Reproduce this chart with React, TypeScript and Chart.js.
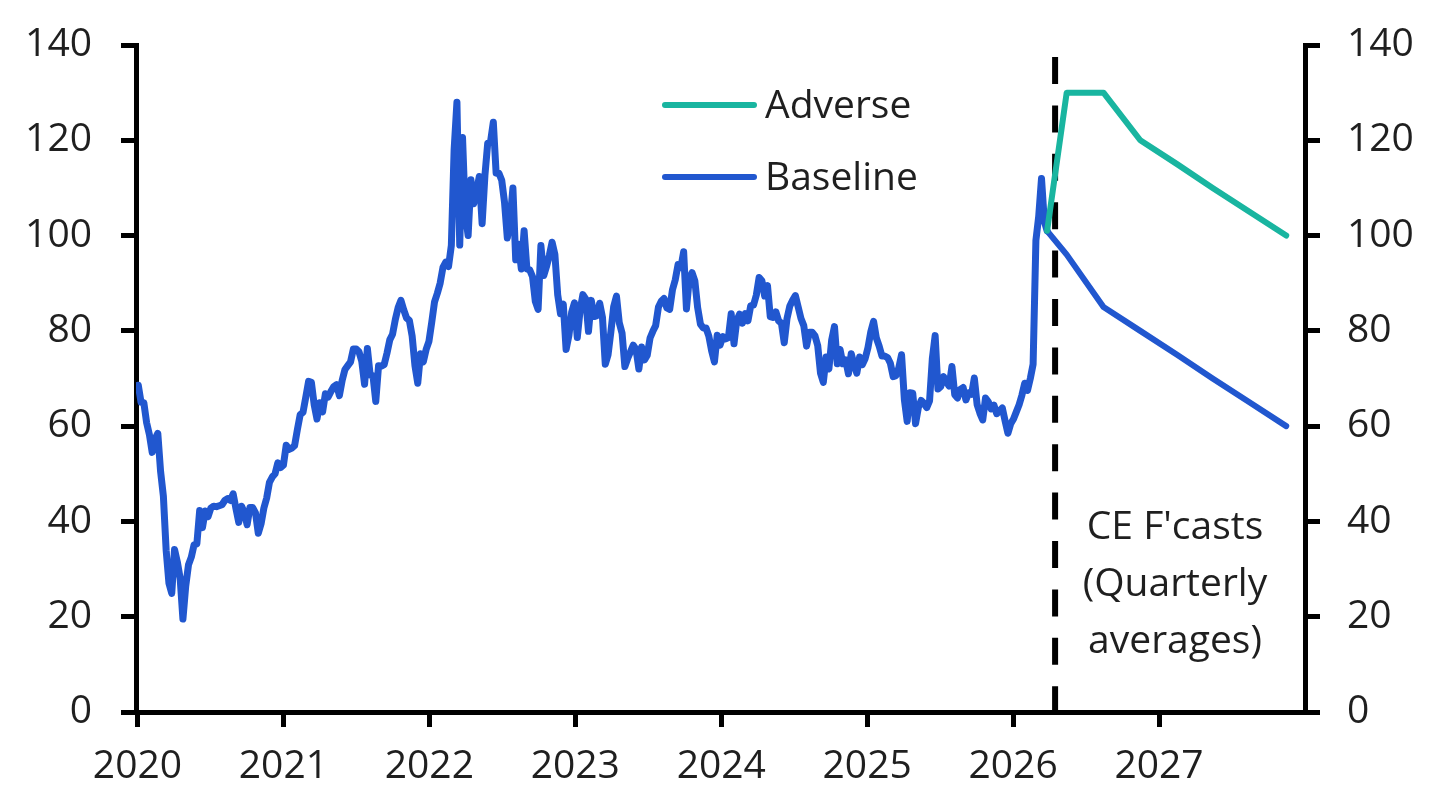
import React, { useEffect, useRef } from "react";
import { Chart, registerables } from "chart.js";

Chart.register(...registerables);

// Weekly (Friday) observations, first week ending 2020-01-03
const WEEKLY_START = "2020-01-03";

const brent2020 = [
  68.6, 65.0, 64.9, 60.7, 58.2,
  54.5, 57.3, 58.5, 50.5,
  45.3, 33.9, 27.0, 24.9,
  34.1, 31.5, 28.1, 19.5,
  26.4, 30.9, 32.5, 35.1, 35.3,
  42.3, 38.7, 42.2, 41.0,
  42.8, 43.2, 43.1, 43.3, 43.5,
  44.4, 44.8, 44.4, 45.8,
  42.7, 39.8, 43.2, 41.9,
  39.3, 42.9, 42.9, 41.8, 37.5,
  39.5, 42.8, 44.9, 48.2,
  49.3, 50.0, 52.3, 51.3,
];

const brent2021 = [
  51.8, 56.0, 55.1, 55.4, 55.9,
  59.3, 62.4, 62.9, 66.1,
  69.4, 69.2, 64.5, 61.5,
  64.9, 63.0, 66.8, 66.1, 67.3,
  68.3, 68.7, 66.4, 69.6,
  71.9, 72.7, 73.5, 76.2,
  76.2, 75.6, 73.6, 68.8, 76.3,
  70.7, 70.6, 65.2, 72.7,
  72.6, 72.9, 75.3, 78.1,
  79.3, 82.4, 84.9, 86.4, 84.4,
  82.7, 82.2, 78.9, 72.7,
  69.0, 75.2, 73.5, 76.1, 77.8,
];

const brent2022 = [
  81.8, 86.1, 87.9, 90.0,
  93.3, 94.4, 93.5, 97.9,
  118.1, 128.0, 98.0, 120.6,
  104.4, 100.0, 111.7, 106.7, 109.3,
  112.4, 102.5, 112.6, 119.4,
  119.7, 123.8, 113.1, 113.1,
  111.6, 107.0, 99.5, 103.2, 110.0,
  94.9, 98.2, 93.0, 101.0,
  93.0, 92.8, 91.4, 86.2, 84.5,
  97.9, 91.6, 93.5, 95.8,
  98.6, 96.0, 87.6, 83.6,
  85.6, 76.1, 79.0, 83.9, 85.9,
];

const brent2023 = [
  78.6, 84.3, 87.6, 86.7,
  79.9, 86.4, 83.0, 83.2,
  85.8, 82.8, 73.0, 75.0, 79.8,
  85.1, 87.3, 81.7, 79.5,
  72.5, 74.2, 75.6, 77.0,
  76.1, 72.0, 76.6, 73.9, 74.9,
  78.5, 79.9, 81.1, 85.0,
  86.2, 86.8, 84.8, 84.5,
  88.6, 90.7, 93.9, 93.3, 96.6,
  84.6, 90.9, 92.2, 90.5,
  84.9, 81.4, 80.6, 80.6,
  78.9, 75.8, 73.5, 79.1, 77.0,
];

const brent2024 = [
  78.8, 78.3, 78.6, 83.6,
  77.3, 82.2, 83.5, 81.6,
  83.6, 82.1, 85.3, 85.4, 87.5,
  91.2, 90.5, 87.3, 89.5,
  83.0, 82.8, 84.0, 82.1, 81.6,
  77.5, 82.6, 85.2, 86.4,
  87.4, 85.0, 82.6, 81.1,
  76.8, 79.7, 79.7, 79.0, 76.9,
  71.1, 69.2, 74.5, 72.0,
  78.1, 80.9, 73.1, 76.1,
  73.1, 73.9, 71.0, 75.2, 72.9,
  71.1, 74.5, 72.9, 74.2,
];

const brent2025 = [
  76.5, 79.8, 82.0, 78.5, 76.8,
  74.7, 74.7, 74.4, 73.2,
  70.4, 70.6, 72.2, 75.0,
  65.6, 61.0, 67.0, 66.9,
  60.5, 63.9, 65.4, 64.8, 63.9,
  65.3, 74.2, 79.0, 67.8,
  68.3, 70.4, 69.3, 68.4,
  72.5, 66.6, 65.9, 67.7, 68.1,
  65.5, 67.0, 66.7, 70.1,
  64.5, 62.7, 61.3, 65.9, 65.1,
  63.6, 64.4, 62.6, 63.2,
  63.8, 61.1, 58.5, 60.5,
];

const brent2026 = [
  61.5, 63.0, 64.5, 66.5, 69.0,
  67.5, 70.0, 73.0, 99.0,
  104.0, 112.0, 103.0, 101.0,
];

// Quarterly-average forecasts, anchored on the last observation
const forecastDates = [
  "2026-03-27", "2026-05-15", "2026-08-15", "2026-11-15",
  "2027-02-15", "2027-05-15", "2027-08-15", "2027-11-15",
];
const adverseForecast = [101, 130, 130, 120, 115, 110, 105, 100];
const baselineForecast = [101, 96, 85, 80, 75, 70, 65, 60];

const forecastDivider = "2026-04-16";
const yearTicks = [2020, 2021, 2022, 2023, 2024, 2025, 2026, 2027];
const seriesLabels = ["Adverse", "Baseline"];
const noteLines = ["CE F'casts", "(Quarterly", "averages)"];

const BLUE = "#2157CF";
const TEAL = "#19B5A0";
const INK = "#1f1f1f";
const FONT = "'Open Sans', 'Noto Sans', sans-serif";
const FONT_SIZE = 39;

function toYear(iso: string): number {
  const [y, m, d] = iso.split("-").map(Number);
  const start = Date.UTC(y, 0, 1);
  const end = Date.UTC(y + 1, 0, 1);
  return y + (Date.UTC(y, m - 1, d) - start) / (end - start);
}

function weeklyDate(i: number): string {
  const t = new Date(WEEKLY_START + "T00:00:00Z").getTime() + i * 7 * 86400000;
  return new Date(t).toISOString().slice(0, 10);
}

const brentWeekly = [
  ...brent2020, ...brent2021, ...brent2022, ...brent2023,
  ...brent2024, ...brent2025, ...brent2026,
];

const overlayPlugin = {
  id: "overlay",
  beforeDatasetsDraw(chart: any) {
    const { ctx, chartArea, scales } = chart;
    const x = scales.x.getPixelForValue(toYear(forecastDivider));
    ctx.save();
    ctx.strokeStyle = "#000";
    ctx.lineWidth = 6;
    ctx.setLineDash([27, 21.4]);
    ctx.beginPath();
    ctx.moveTo(x, 57);
    ctx.lineTo(x, chartArea.bottom);
    ctx.stroke();
    ctx.restore();
  },
  afterDatasetsDraw(chart: any) {
    const { ctx } = chart;
    ctx.save();
    // legend
    const colors = [TEAL, BLUE];
    const rows = [105, 177];
    ctx.font = `${FONT_SIZE}px ${FONT}`;
    ctx.fillStyle = INK;
    ctx.textBaseline = "alphabetic";
    ctx.textAlign = "left";
    seriesLabels.forEach((label, i) => {
      ctx.strokeStyle = colors[i];
      ctx.lineWidth = 6;
      ctx.lineCap = "round";
      ctx.beginPath();
      ctx.moveTo(665, rows[i]);
      ctx.lineTo(754, rows[i]);
      ctx.stroke();
      ctx.fillText(label, 765, rows[i] + 13);
    });
    // forecast note
    ctx.textAlign = "center";
    noteLines.forEach((line, i) => {
      ctx.fillText(line, 1175, 539 + i * 57);
    });
    ctx.restore();
  },
};

const tickFont = { family: FONT, size: FONT_SIZE };

// value axes: fixed width, and no extra top/bottom room for the end labels
function fitValueAxis(width: number) {
  return (s: any) => {
    s.width = width;
    s.paddingTop = 0;
    s.paddingBottom = 0;
  };
}

export default function App() {
  const canvasRef = useRef<HTMLCanvasElement | null>(null);

  useEffect(() => {
    const canvas = canvasRef.current;
    if (!canvas) return;

    const actual = brentWeekly.map((v, i) => ({ x: toYear(weeklyDate(i)), y: v }));
    const adverse = forecastDates.map((d, i) => ({ x: toYear(d), y: adverseForecast[i] }));
    const baseline = forecastDates.map((d, i) => ({ x: toYear(d), y: baselineForecast[i] }));

    const axisGrid = {
      drawOnChartArea: false,
      drawTicks: true,
      tickLength: 15,
      tickWidth: 5,
      lineWidth: 5,
      tickColor: "#000",
      color: "#000",
    };
    const axisBorder = { display: true, color: "#000", width: 5 };

    const chart = new Chart(canvas, {
      type: "line",
      data: {
        datasets: [
          {
            label: seriesLabels[0],
            data: adverse,
            borderColor: TEAL,
            borderWidth: 6,
            order: 0,
          },
          {
            label: seriesLabels[1],
            data: baseline,
            borderColor: BLUE,
            borderWidth: 6,
            order: 1,
          },
          {
            label: "Actual",
            data: actual,
            borderColor: BLUE,
            borderWidth: 7,
            order: 2,
          },
        ],
      },
      options: {
        responsive: false,
        animation: false,
        parsing: false,
        layout: { padding: { top: 45, left: 0, right: 0, bottom: 0 } },
        plugins: { legend: { display: false }, tooltip: { enabled: false } },
        elements: {
          point: { radius: 0, hoverRadius: 0 },
          line: { tension: 0, borderJoinStyle: "round", borderCapStyle: "round", fill: false },
        },
        scales: {
          x: {
            type: "linear",
            min: 2019.99,
            max: 2028.0,
            afterBuildTicks: (s: any) => {
              s.ticks = yearTicks.map((v) => ({ value: v }));
            },
            afterFit: (s: any) => {
              s.height = 80;
            },
            ticks: {
              autoSkip: false,
              maxRotation: 0,
              padding: 16,
              color: INK,
              font: tickFont,
              callback: (v: any) => String(v),
            },
            grid: axisGrid,
            border: axisBorder,
          },
          y: {
            position: "left",
            min: 0,
            max: 140,
            afterFit: fitValueAxis(136),
            ticks: { stepSize: 20, padding: 29, color: INK, font: tickFont },
            grid: axisGrid,
            border: axisBorder,
          },
          y2: {
            position: "right",
            min: 0,
            max: 140,
            afterFit: fitValueAxis(1434 - 1305),
            ticks: { stepSize: 20, padding: 27, color: INK, font: tickFont },
            grid: axisGrid,
            border: axisBorder,
          },
        },
      },
      plugins: [overlayPlugin],
    } as any);

    return () => chart.destroy();
  }, []);

  return (
    <canvas
      ref={canvasRef}
      width={1434}
      height={792}
      style={{ position: "fixed", left: 0, top: 0, width: 1434, height: 792, background: "#fff" }}
    />
  );
}
